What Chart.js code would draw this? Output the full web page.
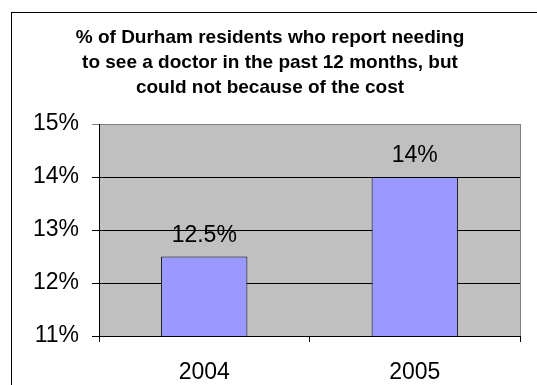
<!DOCTYPE html>
<html>
<head>
<meta charset="utf-8">
<script src="https://cdn.jsdelivr.net/npm/chart.js@4/dist/chart.umd.min.js"></script>
<style>
  html, body { margin: 0; padding: 0; background: #fff; }
  #wrap { width: 537px; height: 385px; }
</style>
</head>
<body>
<div id="wrap"><canvas id="myChart" width="537" height="385"></canvas></div>
<script>
const years = ['2004', '2005'];
const couldNotAfford = [12.5, 14];
const yTicks = [11, 12, 13, 14, 15];
const titleLines = [
  '% of Durham residents who report needing',
  'to see a doctor in the past 12 months, but',
  'could not because of the cost'
];

const FONT = "'Liberation Sans', Arial, sans-serif";

// gray plot background, frame round the chart, right edge of the plot
const chartDecor = {
  id: 'chartDecor',
  beforeDraw(chart) {
    const { ctx, chartArea: a } = chart;
    ctx.save();
    ctx.fillStyle = '#c0c0c0';
    ctx.fillRect(a.left, a.top, a.right - a.left, a.bottom - a.top);
    ctx.strokeStyle = '#000';
    ctx.lineWidth = 1;
    ctx.strokeRect(11.5, 12.5, 700, 500);
    ctx.restore();
  },
  afterDraw(chart) {
    const { ctx, chartArea: a } = chart;
    ctx.save();
    ctx.strokeStyle = '#808080';
    ctx.lineWidth = 1;
    ctx.beginPath();
    ctx.moveTo(Math.round(a.right) + 0.5, a.top);
    ctx.lineTo(Math.round(a.right) + 0.5, a.bottom);
    ctx.stroke();
    ctx.restore();
  }
};

// value text above each bar
const barValues = {
  id: 'barValues',
  afterDatasetsDraw(chart) {
    const { ctx } = chart;
    const meta = chart.getDatasetMeta(0);
    ctx.save();
    ctx.font = '23px ' + FONT;
    ctx.fillStyle = '#000';
    ctx.textAlign = 'center';
    ctx.textBaseline = 'alphabetic';
    meta.data.forEach((bar, i) => {
      ctx.fillText(couldNotAfford[i] + '%', bar.x, bar.y - 15);
    });
    ctx.restore();
  }
};

const ctx = document.getElementById('myChart').getContext('2d');

new Chart(ctx, {
  type: 'bar',
  data: {
    labels: years,
    datasets: [{
      data: couldNotAfford,
      backgroundColor: '#9999ff',
      borderColor: '#000',
      borderWidth: 1,
      barPercentage: 0.41,
      categoryPercentage: 1
    }]
  },
  options: {
    responsive: false,
    animation: false,
    layout: { padding: { left: 20, right: 17, top: 0, bottom: 0 } },
    plugins: {
      legend: { display: false },
      tooltip: { enabled: false },
      title: {
        display: true,
        text: titleLines,
        color: '#000',
        font: { family: FONT, size: 19, weight: 'bold', lineHeight: '25px' },
        padding: { top: 25, bottom: 24 }
      }
    },
    scales: {
      x: {
        afterFit(scale) { scale.height = 49; },
        grid: {
          offset: true,
          drawOnChartArea: false,
          drawTicks: true,
          tickLength: 6,
          color: '#000'
        },
        border: { color: '#000' },
        ticks: {
          color: '#000',
          padding: 17,
          font: { family: FONT, size: 23 }
        }
      },
      y: {
        min: 11,
        max: 15,
        afterFit(scale) { scale.width = 79; },
        afterBuildTicks(scale) { scale.ticks = yTicks.map(v => ({ value: v })); },
        grid: {
          color: c => (c.tick && c.tick.value === 15 ? '#808080' : '#000'),
          tickLength: 7
        },
        border: { color: '#000' },
        ticks: {
          color: '#000',
          padding: 13,
          font: { family: FONT, size: 23 },
          callback: v => v + '%'
        }
      }
    }
  },
  plugins: [chartDecor, barValues]
});
</script>
</body>
</html>
